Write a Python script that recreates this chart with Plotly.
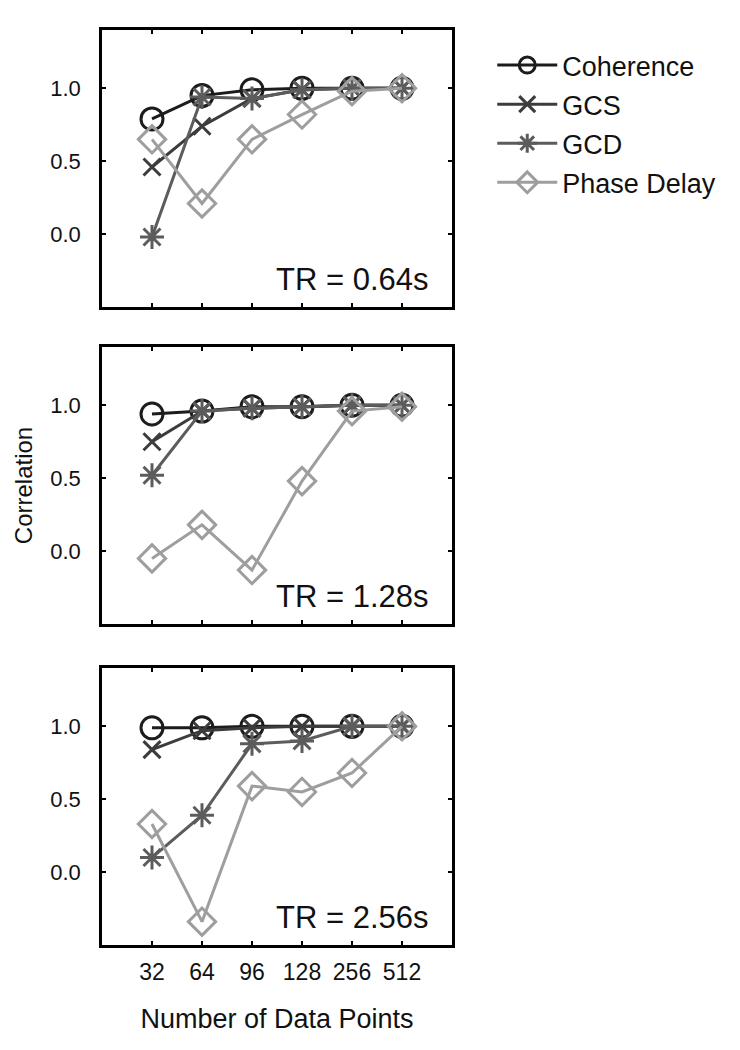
import plotly.graph_objects as go
from plotly.subplots import make_subplots

categories = ["32", "64", "96", "128", "256", "512"]
panel_labels = ["TR = 0.64s", "TR = 1.28s", "TR = 2.56s"]

coherence_064 = [0.79, 0.95, 0.99, 1.00, 1.00, 1.00]
gcs_064 = [0.46, 0.74, 0.93, 0.99, 1.00, 1.00]
gcd_064 = [-0.02, 0.94, 0.93, 0.99, 1.00, 1.00]
phase_064 = [0.65, 0.21, 0.65, 0.82, 0.98, 1.00]

coherence_128 = [0.94, 0.96, 0.99, 0.99, 1.00, 1.00]
gcs_128 = [0.75, 0.96, 0.98, 0.99, 1.00, 1.00]
gcd_128 = [0.52, 0.96, 0.98, 0.99, 1.00, 1.00]
phase_128 = [-0.05, 0.18, -0.13, 0.48, 0.96, 0.99]

coherence_256 = [0.99, 0.99, 1.00, 1.00, 1.00, 1.00]
gcs_256 = [0.84, 0.97, 0.99, 1.00, 1.00, 1.00]
gcd_256 = [0.10, 0.39, 0.88, 0.90, 1.00, 1.00]
phase_256 = [0.33, -0.34, 0.59, 0.55, 0.68, 1.00]

panels = [
    [coherence_064, gcs_064, gcd_064, phase_064],
    [coherence_128, gcs_128, gcd_128, phase_128],
    [coherence_256, gcs_256, gcd_256, phase_256],
]

series_names = ["Coherence", "GCS", "GCD", "Phase Delay"]
colors = ["#1c1c1c", "#3c3c3c", "#5c5c5c", "#9e9e9e"]
symbols = ["circle-open", "x-thin-open", "asterisk-open", "diamond-open"]
sizes = [22, 17, 20, 21]

FONT = "Liberation Sans, Arial, sans-serif"

fig = make_subplots(rows=3, cols=1, shared_xaxes=False, vertical_spacing=0.04)

for r, data in enumerate(panels, start=1):
    for i, vals in enumerate(data):
        fig.add_trace(
            go.Scatter(
                x=categories, y=vals, mode="lines+markers", name=series_names[i],
                legendgroup=series_names[i], showlegend=(r == 1),
                line=dict(color=colors[i], width=3),
                marker=dict(symbol=symbols[i], size=sizes[i], color=colors[i],
                            line=dict(color=colors[i], width=3)),
            ),
            row=r, col=1,
        )

domains = [[0.6973, 1.0], [0.3508, 0.6536], [0.0, 0.3027]]
for r in range(1, 4):
    yname = "yaxis" if r == 1 else f"yaxis{r}"
    xname = "xaxis" if r == 1 else f"xaxis{r}"
    fig.layout[yname].update(
        domain=domains[r - 1], range=[-0.5, 1.4], tickvals=[0.0, 0.5, 1.0],
        ticktext=["0.0", "0.5", "1.0"], ticks="inside", ticklen=4, tickwidth=2,
        tickcolor="black", showline=True, linecolor="black", linewidth=2.5,
        mirror="allticks", showgrid=False, zeroline=False, automargin=False,
        tickfont=dict(family=FONT, size=22, color="#111"), ticklabelstandoff=14,
    )
    fig.layout[xname].update(
        type="category", range=[-1, 6], ticks="inside", ticklen=4, tickwidth=2,
        tickcolor="black", showline=True, linecolor="black", linewidth=2.5,
        mirror="allticks", showgrid=False, zeroline=False, automargin=False,
        showticklabels=(r == 3), ticklabelstandoff=5,
        tickfont=dict(family=FONT, size=23, color="#111"),
    )
    fig.add_annotation(
        text=panel_labels[r - 1], xref=f"x{'' if r == 1 else r} domain",
        yref=f"y{'' if r == 1 else r} domain", x=0.94, y=0.10,
        xanchor="right", yanchor="middle", showarrow=False,
        font=dict(family=FONT, size=31, color="#111"),
    )

fig.layout.xaxis3.title = dict(text="Number of Data Points",
                               font=dict(family=FONT, size=27, color="#111"), standoff=25)
fig.layout.yaxis2.title = dict(text="Correlation",
                               font=dict(family=FONT, size=24, color="#111"), standoff=11)

fig.update_layout(
    width=740, height=1050,
    margin=dict(l=102, r=288, t=30, b=105, autoexpand=False),
    paper_bgcolor="white", plot_bgcolor="white",
    font=dict(family=FONT, color="#111"),
    legend=dict(x=1.115, y=0.988, xanchor="left", yanchor="top",
                font=dict(family=FONT, size=27, color="#111"),
                itemwidth=60, tracegroupgap=1, bgcolor="rgba(0,0,0,0)"),
)

fig.write_html("out.html", config={"displayModeBar": False},
               post_script="document.body.style.margin='0';")
